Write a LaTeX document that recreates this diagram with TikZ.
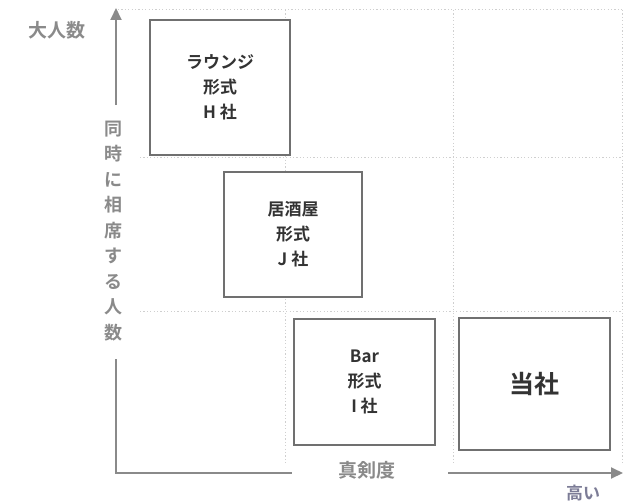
\documentclass[tikz,border=0pt]{standalone}
\usepackage{fontspec}
\setmainfont{Noto Sans CJK JP}[BoldFont={Noto Sans CJK JP Bold}]
\usetikzlibrary{arrows.meta}
\definecolor{axisgray}{HTML}{8A8A8A}
\definecolor{gridgray}{HTML}{CFCFCF}
\definecolor{boxgray}{HTML}{707070}
\definecolor{txtdark}{HTML}{333333}
\tikzset{
  grid line/.style={gridgray, line width=1pt, dash pattern=on 1.2pt off 2.2pt},
  axis line/.style={axisgray, line width=2pt},
  axis head/.style={-{Triangle[length=12pt,width=11pt]}},
  compbox/.style={draw=boxgray, line width=2pt, fill=white, inner sep=0pt, text=txtdark, font=\bfseries\fontsize{17}{25}\selectfont, align=center},
  axislabel/.style={text=axisgray, font=\bfseries\fontsize{18}{25.5}\selectfont, align=center, inner sep=0pt}
}
\begin{document}
\begin{tikzpicture}[x=1pt,y=-1pt]
\useasboundingbox (0,0) rectangle (631,503);
% grid
\coordinate (g1) at (118,10); \coordinate (g2) at (622,10);
\coordinate (g3) at (140,157); \coordinate (g4) at (622,157);
\coordinate (g5) at (140,311); \coordinate (g6) at (622,311);
\coordinate (v1a) at (285,10); \coordinate (v1b) at (285,465);
\coordinate (v2a) at (453,10); \coordinate (v2b) at (453,465);
\coordinate (v3a) at (622,10); \coordinate (v3b) at (622,465);
\draw[grid line] (g1) -- (g2);
\draw[grid line] (g3) -- (g4);
\draw[grid line] (g5) -- (g6);
\draw[grid line] (v1a) -- (v1b);
\draw[grid line] (v2a) -- (v2b);
\draw[grid line] (v3a) -- (v3b);
% boxes
\node[compbox, minimum width=140pt, minimum height=135pt] (h) at (220,87.5) {ラウンジ\\形式\\H 社};
\node[compbox, minimum width=138pt, minimum height=125pt] (j) at (293,234.5) {居酒屋\\形式\\J 社};
\node[compbox, minimum width=141pt, minimum height=126pt] (i) at (364.5,382) {Bar\\形式\\I 社};
\node[compbox, minimum width=151pt, minimum height=132pt, font=\bfseries\fontsize{25}{28}\selectfont] (t) at (534.5,384) {当社};
% axes
\coordinate (ytop) at (116,8);
\coordinate (ymid) at (116,105);
\coordinate (ybot) at (116,359);
\coordinate (origin) at (116,473);
\coordinate (xmid) at (292,473);
\coordinate (xres) at (448,473);
\coordinate (xend) at (623,473);
\draw[axis line, axis head] (ymid) -- (ytop);
\draw[axis line] (ybot) -- (origin) -- (xmid);
\draw[axis line, axis head] (xres) -- (xend);
\node[axislabel] (ylab) at (113,231) {同\\時\\に\\相\\席\\す\\る\\人\\数};
\node[axislabel, font=\bfseries\fontsize{19}{22}\selectfont] (big) at (57,30) {大人数};
\node[axislabel, font=\bfseries\fontsize{19}{22}\selectfont] (xlab) at (367,470) {真剣度};
\node[axislabel, font=\bfseries\fontsize{17}{20}\selectfont, text=axisgray!90!blue] (high) at (583,493) {高い};
\end{tikzpicture}
\end{document}
